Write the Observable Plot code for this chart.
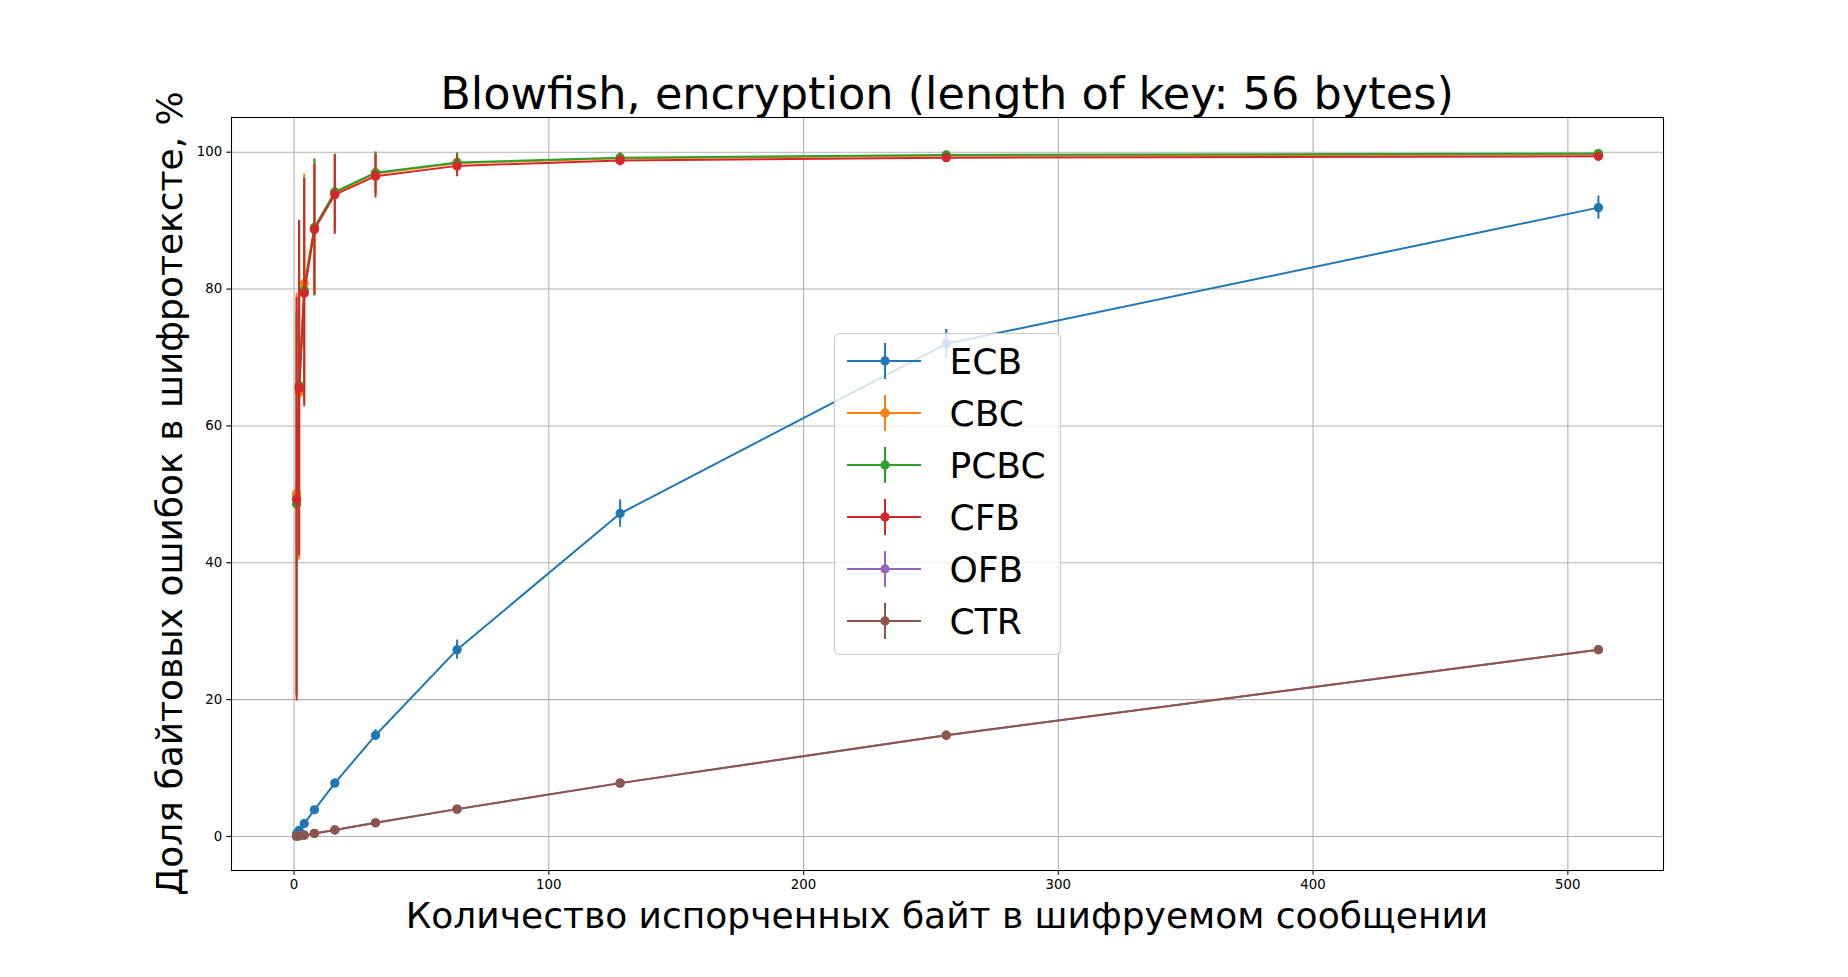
<!DOCTYPE html>
<html>
<head>
<meta charset="utf-8">
<script src="https://cdn.jsdelivr.net/npm/d3@7"></script>
<script src="https://cdn.jsdelivr.net/npm/@observablehq/plot@0.6"></script>
<style>
  html, body { margin: 0; padding: 0; background: #fff; }
  #wrap { position: relative; width: 1848px; height: 977px; overflow: hidden; }
  #wrap > svg { position: absolute; left: 0; top: 0; }
  #overlay { position: absolute; left: 0; top: 0; pointer-events: none; }
</style>
</head>
<body>
<div id="wrap"></div>
<script>
// ---- data ----
const damagedBytes = [1, 2, 4, 8, 16, 32, 64, 128, 256, 512];
const modes = ["ECB", "CBC", "PCBC", "CFB", "OFB", "CTR"];
const modeColors = ["#1f77b4", "#ff7f0e", "#2ca02c", "#d62728", "#9467bd", "#8c564b"];

const ecbMean  = [0.4, 0.9, 1.9, 3.9, 7.8, 14.8, 27.3, 47.2, 72.0, 91.9];
const ecbErr   = [0.2, 0.3, 0.4, 0.5, 0.6, 0.8, 1.4, 2.0, 2.1, 1.7];
const cbcMean  = [50.1, 64.9, 80.8, 89.0, 94.0, 96.9, 98.4, 99.1, 99.5, 99.7];
const cbcErr   = [29.3, 24.5, 16.0, 10.0, 5.7, 3.1, 1.5, 0.8, 0.5, 0.3];
const pcbcMean = [48.6, 65.9, 79.8, 89.0, 94.2, 97.0, 98.5, 99.2, 99.6, 99.8];
const pcbcErr  = [28.0, 24.0, 16.5, 10.0, 5.5, 3.0, 1.4, 0.7, 0.4, 0.2];
const cfbMean  = [49.3, 65.5, 79.4, 88.7, 93.8, 96.5, 98.0, 98.8, 99.2, 99.4];
const cfbErr   = [29.5, 24.5, 16.6, 9.5, 5.8, 3.2, 1.6, 0.8, 0.5, 0.3];
const ofbMean  = [0.05, 0.1, 0.2, 0.45, 0.95, 2.0, 4.0, 7.8, 14.8, 27.3];
const ofbErr   = [0, 0, 0, 0, 0, 0, 0, 0, 0, 0];
const ctrMean  = [0.05, 0.1, 0.2, 0.45, 0.95, 2.0, 4.0, 7.8, 14.8, 27.3];
const ctrErr   = [0, 0, 0, 0, 0, 0, 0, 0, 0, 0];

const xTicks = [0, 100, 200, 300, 400, 500];
const yTicks = [0, 20, 40, 60, 80, 100];

const titleText = "Blowfish, encryption (length of key: 56 bytes)";
const xLabelText = "Количество испорченных байт в шифруемом сообщении";
const yLabelText = "Доля байтовых ошибок в шифротексте, %";

// ---- table ----
const means = [ecbMean, cbcMean, pcbcMean, cfbMean, ofbMean, ctrMean];
const errs = [ecbErr, cbcErr, pcbcErr, cfbErr, ofbErr, ctrErr];
const rows = [];
modes.forEach((m, i) => damagedBytes.forEach((x, j) => rows.push({mode: m, x, y: means[i][j], e: errs[i][j]})));

// ---- layout ----
const W = 1848, H = 977;
const mL = 231, mR = 185, mT = 117, mB = 107;
const font = "DejaVu Sans";

const seriesMarks = [];
modes.forEach((m, i) => {
  const d = rows.filter(r => r.mode === m);
  const c = modeColors[i];
  seriesMarks.push(Plot.ruleX(d, {x: "x", y1: r => r.y - r.e, y2: r => r.y + r.e, stroke: c, strokeWidth: 2}));
  seriesMarks.push(Plot.line(d, {x: "x", y: "y", stroke: c, strokeWidth: 2}));
  seriesMarks.push(Plot.dot(d, {x: "x", y: "y", r: 4, fill: c, stroke: c, strokeWidth: 1.33}));
});

const chart = Plot.plot({
  width: W, height: H,
  marginLeft: mL, marginRight: mR, marginTop: mT, marginBottom: mB,
  style: {fontFamily: font, fontSize: "13.33px", background: "white", color: "black", overflow: "visible"},
  x: {domain: [-24.55, 537.55]},
  y: {domain: [-4.97, 105.07]},
  marks: [
    Plot.gridX(xTicks, {stroke: "#b0b0b0", strokeOpacity: 1, strokeWidth: 1.07}),
    Plot.gridY(yTicks, {stroke: "#b0b0b0", strokeOpacity: 1, strokeWidth: 1.07}),
    ...seriesMarks,
    Plot.frame({stroke: "black", strokeWidth: 1.07}),
    Plot.axisX({ticks: xTicks, tickSize: 4.67, tickPadding: 4.67, label: null, fontSize: 13.33, strokeWidth: 1.07}),
    Plot.axisY({ticks: yTicks, tickSize: 4.67, tickPadding: 4.67, label: null, fontSize: 13.33, strokeWidth: 1.07})
  ]
});
const wrap = document.getElementById("wrap");
wrap.appendChild(chart);

// ---- overlay: title, axis labels, legend ----
const ns = "http://www.w3.org/2000/svg";
const ov = document.createElementNS(ns, "svg");
ov.setAttribute("id", "overlay");
ov.setAttribute("width", W);
ov.setAttribute("height", H);
ov.setAttribute("font-family", font);
function el(tag, attrs, text) {
  const e = document.createElementNS(ns, tag);
  for (const k in attrs) e.setAttribute(k, attrs[k]);
  if (text != null) e.textContent = text;
  ov.appendChild(e);
  return e;
}
const cx = mL + (W - mL - mR) / 2;
const cy = mT + (H - mT - mB) / 2;
el("text", {x: cx, y: 109, "text-anchor": "middle", "font-size": 44.6, fill: "black"}, titleText);
el("text", {x: cx, y: 928, "text-anchor": "middle", "font-size": 36, fill: "black"}, xLabelText);
el("text", {x: 0, y: 0, transform: `translate(182,${cy}) rotate(-90)`, "text-anchor": "middle", "font-size": 36, fill: "black"}, yLabelText);

// legend
const lgX = 834, lgY = 333, lgW = 226, lgH = 321;
el("rect", {x: lgX + 0.5, y: lgY + 0.5, width: lgW, height: lgH, rx: 5, ry: 5, fill: "white", "fill-opacity": 0.8, stroke: "#cccccc", "stroke-width": 1.07});
modes.forEach((m, i) => {
  const yc = 361 + i * 52;
  const c = modeColors[i];
  el("line", {x1: 847, x2: 921, y1: yc, y2: yc, stroke: c, "stroke-width": 2});
  el("line", {x1: 885, x2: 885, y1: yc - 18, y2: yc + 18, stroke: c, "stroke-width": 2});
  el("circle", {cx: 885, cy: yc, r: 4, fill: c, stroke: c, "stroke-width": 1.33});
  el("text", {x: 949.5, y: yc + 13.3, "font-size": 36, fill: "black"}, m);
});
wrap.appendChild(ov);
</script>
</body>
</html>
